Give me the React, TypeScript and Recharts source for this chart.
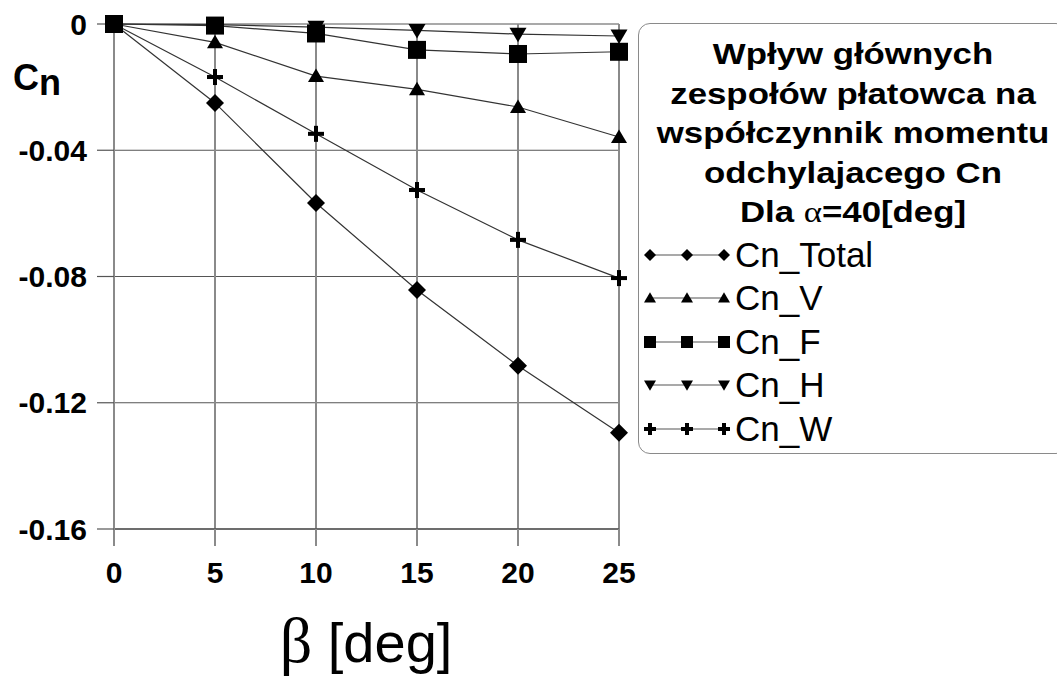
import React from 'react';
import { LineChart, Line, XAxis, YAxis, CartesianGrid } from 'recharts';

const betaValues = [0, 5, 10, 15, 20, 25];
const cnTotal = [0, -0.025, -0.0567, -0.0843, -0.1083, -0.1295];
const cnV = [0, -0.0058, -0.0165, -0.0207, -0.0263, -0.0358];
const cnF = [0, -0.0005, -0.003, -0.0082, -0.0095, -0.0088];
const cnH = [0, -0.0002, -0.001, -0.002, -0.0032, -0.0038];
const cnW = [0, -0.0168, -0.0348, -0.0526, -0.0684, -0.0805];

const xTicks = [0, 5, 10, 15, 20, 25];
const xMinorTicks = [2.5, 7.5, 12.5, 17.5, 22.5];
const yTicks = [-0.16, -0.12, -0.08, -0.04, 0];
const yMinorTicks = [-0.14, -0.1, -0.06, -0.02];

const titleLines = ['Wpływ głównych', 'zespołów płatowca na', 'współczynnik momentu', 'odchylajacego Cn'];

const data = betaValues.map((b, i) => ({
  beta: b,
  total: cnTotal[i],
  v: cnV[i],
  f: cnF[i],
  h: cnH[i],
  w: cnW[i],
}));

type Kind = 'diamond' | 'tri' | 'square' | 'down' | 'plus';

const series: { key: string; name: string; kind: Kind }[] = [
  { key: 'total', name: 'Cn_Total', kind: 'diamond' },
  { key: 'v', name: 'Cn_V', kind: 'tri' },
  { key: 'f', name: 'Cn_F', kind: 'square' },
  { key: 'h', name: 'Cn_H', kind: 'down' },
  { key: 'w', name: 'Cn_W', kind: 'plus' },
];

const marker = (kind: Kind, cx: number, cy: number, s: number, key?: string) => {
  if (kind === 'diamond') {
    return <polygon key={key} points={`${cx},${cy - s} ${cx + s},${cy} ${cx},${cy + s} ${cx - s},${cy}`} fill="#000" />;
  }
  if (kind === 'tri') {
    return <polygon key={key} points={`${cx},${cy - s * 0.95} ${cx + s},${cy + s * 0.75} ${cx - s},${cy + s * 0.75}`} fill="#000" />;
  }
  if (kind === 'down') {
    return <polygon key={key} points={`${cx},${cy + s * 0.95} ${cx + s},${cy - s * 0.75} ${cx - s},${cy - s * 0.75}`} fill="#000" />;
  }
  if (kind === 'square') {
    return <rect key={key} x={cx - s} y={cy - s} width={s * 2} height={s * 2} fill="#000" />;
  }
  return (
    <g key={key}>
      <rect x={cx - s} y={cy - 2} width={s * 2} height={4} fill="#000" />
      <rect x={cx - 2} y={cy - s} width={4} height={s * 2} fill="#000" />
    </g>
  );
};

const dotFor = (kind: Kind, size: number) => (props: any) =>
  marker(kind, props.cx, props.cy, size, `${kind}-${props.index}`);

const dotSize: Record<Kind, number> = { diamond: 9, tri: 8, square: 9, down: 8.5, plus: 8 };

const LegendBox = () => (
  <div
    style={{
      position: 'absolute',
      left: 638,
      top: 23,
      width: 430,
      height: 431,
      border: '1.5px solid #8a8a8a',
      borderRadius: 12,
      boxSizing: 'border-box',
      fontFamily: '"Liberation Sans", Arial, sans-serif',
      color: '#000',
    }}
  >
    <div style={{ paddingTop: 10, textAlign: 'center', fontWeight: 'bold', fontSize: 30, lineHeight: '39.5px' }}>
      {titleLines.map((t) => (
        <div key={t} style={{ transform: 'scaleX(1.16)', transformOrigin: '50% 50%' }}>{t}</div>
      ))}
      <div style={{ transform: 'scaleX(1.16)', transformOrigin: '50% 50%' }}>
        Dla <span style={{ fontFamily: '"Liberation Serif", serif', fontWeight: 'normal' }}>α</span>=40[deg]
      </div>
    </div>
    <div style={{ position: 'absolute', left: 0, top: 209 }}>
      {series.map((s) => (
        <div key={s.key} style={{ display: 'flex', alignItems: 'center', height: 43.5 }}>
          <svg width={96} height={24} style={{ display: 'block' }}>
            <line x1={10} y1={12} x2={85} y2={12} stroke="#555" strokeWidth={1.2} />
            {marker(s.kind, 11, 12, 6)}
            {marker(s.kind, 48, 12, 6)}
            {marker(s.kind, 85, 12, 6)}
          </svg>
          <span style={{ fontSize: 35, lineHeight: '40px' }}>{s.name}</span>
        </div>
      ))}
    </div>
  </div>
);

export default function App() {
  return (
    <div style={{ position: 'absolute', left: 0, top: 0, width: 1057, height: 677, overflow: 'hidden', background: '#fff' }}>
      <LineChart
        width={1057}
        height={677}
        data={data}
        margin={{ top: 24, right: 438, left: 14, bottom: 48 }}
        style={{ fontFamily: '"Liberation Sans", Arial, sans-serif' }}
      >
        <CartesianGrid horizontal={true} vertical={false} stroke="#555" strokeWidth={1.2} horizontalValues={yTicks} />
        <CartesianGrid horizontal={false} vertical={true} stroke="#8a8a8a" strokeWidth={2} verticalValues={xTicks} />
        <XAxis
          xAxisId="minor"
          type="number"
          dataKey="beta"
          domain={[0, 25]}
          ticks={xMinorTicks}
          tick={false}
          axisLine={false}
          tickLine={{ stroke: '#444', strokeWidth: 1.2 }}
          tickSize={8}
          height={0}
        />
        <XAxis
          type="number"
          dataKey="beta"
          domain={[0, 25]}
          ticks={xTicks}
          interval={0}
          tick={{ fill: '#000', fontSize: 30, fontWeight: 'bold' }}
          axisLine={{ stroke: '#333', strokeWidth: 1.2 }}
          tickLine={{ stroke: '#8a8a8a', strokeWidth: 2 }}
          tickSize={17}
          tickMargin={16}
          height={100}
        />
        <YAxis
          yAxisId="minor"
          type="number"
          domain={[-0.16, 0]}
          ticks={yMinorTicks}
          tick={false}
          axisLine={false}
          tickLine={{ stroke: '#444', strokeWidth: 1.2 }}
          tickSize={8}
          width={0}
        />
        <YAxis
          type="number"
          domain={[-0.16, 0]}
          ticks={yTicks}
          interval={0}
          tickFormatter={(v: number) => (v === 0 ? '0' : v.toFixed(2))}
          tick={{ fill: '#000', fontSize: 30, fontWeight: 'bold' }}
          axisLine={{ stroke: '#8a8a8a', strokeWidth: 2 }}
          tickLine={{ stroke: '#555', strokeWidth: 1.2 }}
          tickSize={17}
          tickMargin={10}
          width={100}
        />
        {series.map((s) => (
          <Line
            key={s.key}
            dataKey={s.key}
            name={s.name}
            stroke="#333"
            strokeWidth={1.2}
            dot={dotFor(s.kind, dotSize[s.kind])}
            activeDot={false}
            isAnimationActive={false}
          />
        ))}
      </LineChart>
      <svg width={1057} height={677} style={{ position: 'absolute', left: 0, top: 0, pointerEvents: 'none' }}>
        <text x={13} y={90} fontFamily='"Liberation Sans", Arial, sans-serif' fontWeight="bold" fontSize={36} fill="#000">
          C<tspan dy={5}>n</tspan>
        </text>
        <text x={366} y={662} textAnchor="middle" fill="#000">
          <tspan fontFamily='"Liberation Serif", serif' fontSize={64}>β</tspan>
          <tspan fontFamily='"Liberation Sans", Arial, sans-serif' fontSize={56}> [deg]</tspan>
        </text>
      </svg>
      <LegendBox />
    </div>
  );
}
